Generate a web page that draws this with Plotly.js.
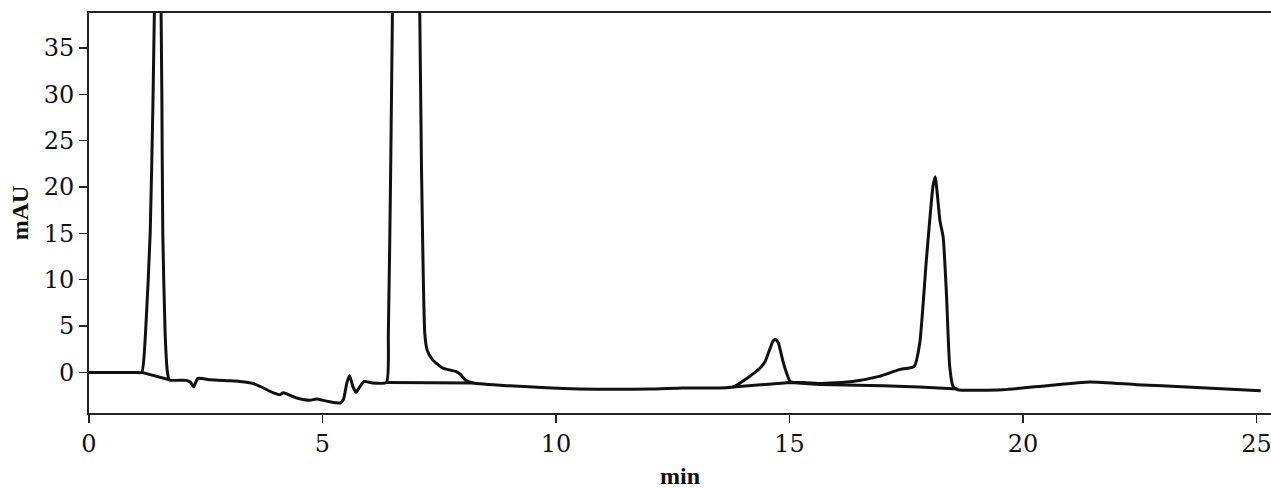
<!DOCTYPE html>
<html>
<head>
<meta charset="utf-8">
<script src="https://cdn.plot.ly/plotly-3.0.1.min.js"></script>
<style>html,body{margin:0;padding:0;background:#fff;}#chart{width:1271px;height:489px;}</style>
</head>
<body>
<div id="chart"></div>
<script>
// Sample chromatogram (retention time in min, absorbance in mAU)
const sampleTime = [0, 0.5, 1.0, 1.13, 1.21, 1.31, 1.37, 1.42, 1.48, 1.53, 1.56, 1.58, 1.63, 1.68, 1.72,
  2.08, 2.17, 2.24, 2.33, 2.6, 3.0, 3.23, 3.52, 3.95, 4.09, 4.16, 4.45, 4.73, 4.87, 5.09, 5.38, 5.45,
  5.52, 5.58, 5.65, 5.72, 5.78, 5.89, 6.07, 6.37, 6.41, 6.46, 6.50, 6.55, 6.8, 7.03, 7.08, 7.12, 7.19,
  7.24, 7.35, 7.57, 7.85, 7.96, 8.05, 8.23, 9.0, 10.5, 12.0, 12.7, 13.49, 13.79, 14.1, 14.37, 14.48,
  14.65, 14.7, 14.76, 14.87, 15.02, 15.3, 15.65, 16.35, 16.92, 17.35, 17.67, 17.79, 17.93, 18.07, 18.12,
  18.22, 18.29, 18.36, 18.43, 18.5, 18.6, 19.57, 20.5, 21.43, 22.43, 23.5, 25.09];
const sampleSignal = [0, 0, 0, 0, 4.2, 15, 29.3, 45, 56, 45, 30, 15, 4.2, 0, -0.8,
  -0.86, -1.05, -1.57, -0.65, -0.8, -0.9, -0.97, -1.2, -2.2, -2.4, -2.2, -2.76, -3.0, -2.87, -3.1, -3.3, -2.9,
  -1.15, -0.36, -1.5, -2.15, -1.7, -0.97, -1.15, -1.08, 4.2, 22, 40, 55, 60, 55, 40, 22, 4.2,
  2.4, 1.4, 0.47, 0.1, -0.25, -0.79, -1.15, -1.45, -1.79, -1.8, -1.68, -1.68, -1.58, -0.6, 0.47, 1.2,
  3.4, 3.55, 3.2, 1.0, -1.0, -1.1, -1.2, -0.97, -0.43, 0.3, 0.65, 3.2, 12.1, 20, 21.1,
  16.4, 14.6, 8.5, 0.65, -1.5, -1.87, -1.86, -1.43, -1.03, -1.32, -1.57, -1.97];

// Baseline segments drawn beneath the peaks (null separates segments)
const baseTime = [1.13, 1.72, null, 6.37, 7.0, 7.8, 8.23, null, 13.79, 15.02, 15.65, 16.35, 17.0, 17.78, 18.6];
const baseSignal = [0, -0.8, null, -1.08, -1.1, -1.13, -1.15, null, -1.58, -1.08, -1.3, -1.35, -1.45, -1.58, -1.8];

const xTicks = [0, 5, 10, 15, 20, 25];
const yTicks = [0, 5, 10, 15, 20, 25, 30, 35];

const traces = [
  {x: sampleTime, y: sampleSignal, type: 'scatter', mode: 'lines',
   line: {color: '#111', width: 3, shape: 'spline', smoothing: 0.5}, hoverinfo: 'x+y'},
  {x: baseTime, y: baseSignal, type: 'scatter', mode: 'lines',
   line: {color: '#111', width: 3}, connectgaps: false, hoverinfo: 'x+y'}
];

const tickFont = {family: 'DejaVu Serif, Liberation Serif, serif', size: 24, color: '#111'};
const titleFont = {family: 'Liberation Serif, DejaVu Serif, serif', size: 24, color: '#111', weight: 'bold'};

const layout = {
  width: 1271, height: 489,
  margin: {l: 89, r: 0, t: 13, b: 76},
  paper_bgcolor: '#fff', plot_bgcolor: '#fff',
  showlegend: false,
  xaxis: {
    range: [0, 25.31], tickvals: xTicks, ticktext: xTicks.map(String),
    ticks: 'outside', ticklen: 8, tickwidth: 1.5, tickcolor: '#222',
    ticklabeloverflow: 'allow',
    showline: true, linewidth: 2, linecolor: '#222', mirror: true,
    showgrid: false, zeroline: false, tickfont: tickFont,
    title: {text: 'min', font: titleFont, standoff: 12}
  },
  yaxis: {
    range: [-4.38, 38.77], tickvals: yTicks, ticktext: yTicks.map(String),
    ticks: 'outside', ticklen: 8, tickwidth: 1.5, tickcolor: '#222',
    showline: true, linewidth: 2, linecolor: '#222',
    showgrid: false, zeroline: false, tickfont: tickFont,
    title: {text: 'mAU', font: titleFont, standoff: 8}
  }
};

Plotly.newPlot('chart', traces, layout, {staticPlot: true, displayModeBar: false});
</script>
</body>
</html>
